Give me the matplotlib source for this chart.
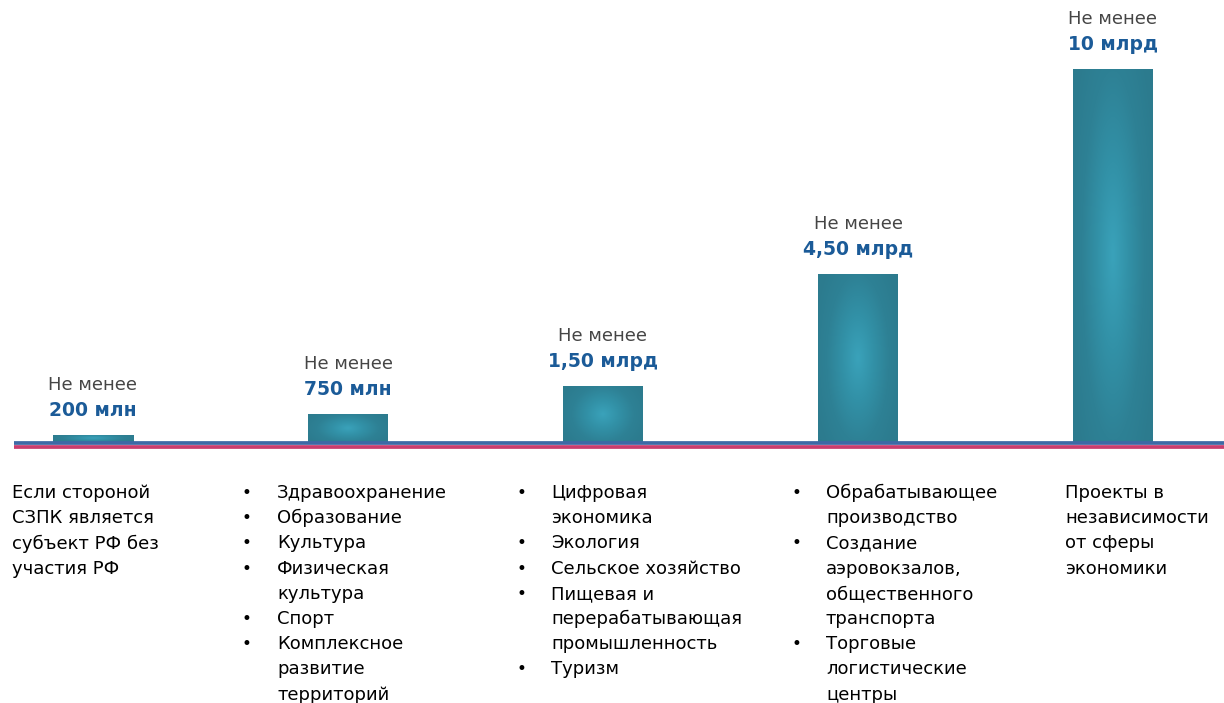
import numpy as np
import matplotlib
matplotlib.use("Agg")
import matplotlib.pyplot as plt
from matplotlib.colors import LinearSegmentedColormap

# данные
values = [0.2, 0.75, 1.5, 4.5, 10]
value_labels = ["200 млн", "750 млн", "1,50 млрд", "4,50 млрд", "10 млрд"]
prefix = "Не менее"

col1 = ["Если стороной\nСЗПК является\nсубъект РФ без\nучастия РФ"]
col2 = ["Здравоохранение", "Образование", "Культура", "Физическая\nкультура",
        "Спорт", "Комплексное\nразвитие\nтерриторий"]
col3 = ["Цифровая\nэкономика", "Экология", "Сельское хозяйство",
        "Пищевая и\nперерабатывающая\nпромышленность", "Туризм"]
col4 = ["Обрабатывающее\nпроизводство", "Создание\nаэровокзалов,\nобщественного\nтранспорта",
        "Торговые\nлогистические\nцентры"]
col5 = ["Проекты в\nнезависимости\nот сферы\nэкономики"]
columns = [col1, col2, col3, col4, col5]
bulleted = [False, True, True, True, False]

# раскладка (пиксели относительно центра столбца)
text_dx = [-81, -71, -52, -32, -48]
bullet_dx = [None, -106, -86, -66, None]

PX_X = 255.0   # пикселей на одну позицию
PX_Y = 37.3    # пикселей на 1 млрд

fig = plt.figure(figsize=(12.24, 7.03), dpi=100)
ax = fig.add_axes([0, 0, 1, 1])
ax.set_xlim(-93 / PX_X, (1224 - 93) / PX_X)
ax.set_ylim(-261 / PX_Y, 442 / PX_Y)
ax.axis("off")

x = np.arange(len(values))
bars = ax.bar(x, values, width=80 / PX_X, color="#2f8499", zorder=2)

# мягкий радиальный градиент в столбцах
cmap = LinearSegmentedColormap.from_list("bar", ["#3aa2ba", "#3291a7", "#2e8195", "#2c7b8e"])
gy, gx = np.mgrid[-1:1:200j, -1:1:200j]
grad = np.clip(np.sqrt(gx ** 2 + 0.6 * gy ** 2) / 1.15, 0, 1)
for b in bars:
    x0, w, h = b.get_x(), b.get_width(), b.get_height()
    im = ax.imshow(grad, cmap=cmap, extent=(x0, x0 + w, 0, h), aspect="auto",
                   zorder=3, interpolation="bicubic")
    im.set_clip_path(b)

# базовая линия
xl = ax.get_xlim()
ax.hlines(-0.6 / PX_Y, (14 - 93) / PX_X, xl[1], color="#3d69a5", linewidth=2.7, zorder=4)
ax.hlines(-4.6 / PX_Y, (14 - 93) / PX_X, xl[1], color="#c93d6e", linewidth=2.7, zorder=4)

# подписи над столбцами
for xi, v, lab in zip(x, values, value_labels):
    ax.annotate(prefix, xy=(xi, v), xytext=(0, 36), textcoords="offset points",
                ha="center", va="center", fontsize=13, color="#454545")
    ax.annotate(lab, xy=(xi, v), xytext=(0, 17.5), textcoords="offset points",
                ha="center", va="center", fontsize=13.5, fontweight="bold", color="#1b5b98")

# описания под столбцами
y0 = -(493 - 442) / PX_Y
step = 25.2 / PX_Y
for i, items in enumerate(columns):
    k = 0
    for item in items:
        lines = item.split("\n")
        if bulleted[i]:
            ax.text(x[i] + bullet_dx[i] / PX_X, y0 - k * step, "•", ha="left",
                    va="center", fontsize=12, color="black")
        for ln in lines:
            ax.text(x[i] + text_dx[i] / PX_X, y0 - k * step, ln, ha="left",
                    va="center", fontsize=13, color="black")
            k += 1

fig.savefig("out.png", dpi=100)
